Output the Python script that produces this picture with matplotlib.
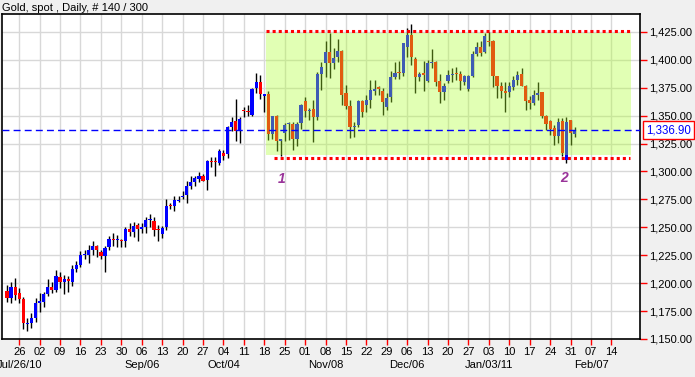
import pandas as pd
import numpy as np
import matplotlib
matplotlib.use("Agg")
import matplotlib.pyplot as plt
import matplotlib.transforms as mtransforms

# daily OHLC, gold spot, Jul 21 2010 .. Feb 01 2011 (140 bars)
opens = [1193.3, 1187.0, 1196.3, 1191.3, 1185.6, 1163.5, 1164.1, 1169.2, 1182.6, 1183.5,
         1190.4, 1196.3, 1193.9, 1205.3, 1201.4, 1203.8, 1201.4, 1212.8, 1216.4, 1225.2,
         1225.4, 1229.9, 1232.9, 1227.5, 1223.9, 1232.0, 1239.8, 1238.2, 1238.0, 1237.9,
         1248.4, 1245.4, 1252.0, 1248.4, 1250.5, 1256.2, 1255.9, 1247.8, 1244.2, 1250.2,
         1269.6, 1268.7, 1273.5, 1276.8, 1279.2, 1287.2, 1290.8, 1293.2, 1296.2, 1292.3,
         1308.8, 1308.5, 1307.6, 1316.9, 1315.7, 1339.6, 1345.6, 1336.0, 1355.3, 1353.8,
         1350.4, 1374.3, 1380.2, 1367.7, 1369.2, 1333.9, 1350.1, 1327.0, 1334.5, 1342.3,
         1342.3, 1329.4, 1343.5, 1362.8, 1354.1, 1355.9, 1348.9, 1387.1, 1397.3, 1406.8,
         1397.3, 1402.4, 1408.1, 1370.1, 1358.7, 1340.1, 1341.3, 1363.2, 1359.6, 1364.1,
         1372.5, 1375.2, 1372.2, 1358.1, 1366.5, 1384.4, 1388.6, 1388.0, 1411.6, 1421.9,
         1400.6, 1385.0, 1388.0, 1381.1, 1397.0, 1397.9, 1381.1, 1371.6, 1381.1, 1386.2,
         1387.7, 1387.4, 1379.8, 1373.8, 1385.8, 1405.5, 1411.5, 1406.7, 1417.1, 1417.1,
         1385.2, 1376.8, 1371.7, 1370.8, 1375.6, 1382.2, 1387.6, 1376.8, 1364.3, 1361.3,
         1368.8, 1370.8, 1349.3, 1344.8, 1338.5, 1331.6, 1344.8, 1310.4, 1345.7, 1333.7]
highs = [1198.4, 1200.8, 1204.4, 1195.5, 1187.4, 1168.5, 1173.1, 1186.5, 1191.0, 1192.5,
         1203.8, 1201.4, 1211.9, 1210.4, 1207.4, 1206.5, 1216.4, 1219.4, 1228.4, 1229.9,
         1233.8, 1237.4, 1234.4, 1229.9, 1232.9, 1241.9, 1244.9, 1243.5, 1239.4, 1250.5,
         1254.1, 1255.0, 1254.1, 1253.5, 1259.5, 1261.9, 1259.5, 1252.0, 1251.4, 1275.3,
         1271.7, 1278.3, 1278.3, 1282.2, 1291.1, 1296.2, 1296.2, 1299.2, 1297.7, 1310.3,
         1312.7, 1312.7, 1320.2, 1319.3, 1341.1, 1349.2, 1365.2, 1348.9, 1357.7, 1359.8,
         1374.9, 1388.6, 1386.2, 1369.5, 1372.2, 1350.1, 1351.0, 1329.4, 1343.5, 1344.6,
         1344.4, 1344.4, 1360.7, 1366.7, 1357.1, 1363.7, 1389.2, 1397.9, 1417.0, 1424.2,
         1410.8, 1418.2, 1408.5, 1377.6, 1364.1, 1344.6, 1364.1, 1364.1, 1368.6, 1382.1,
         1382.1, 1376.7, 1374.6, 1370.1, 1390.4, 1397.9, 1398.8, 1415.0, 1428.7, 1431.6,
         1402.4, 1389.5, 1398.8, 1399.7, 1409.3, 1398.5, 1387.1, 1379.2, 1391.0, 1392.6,
         1393.4, 1390.4, 1386.7, 1386.7, 1407.6, 1415.7, 1416.6, 1424.0, 1425.0, 1417.5,
         1385.5, 1379.8, 1379.8, 1379.8, 1385.8, 1389.7, 1392.8, 1377.0, 1367.3, 1373.2,
         1379.8, 1371.0, 1350.8, 1346.3, 1341.7, 1347.8, 1347.8, 1348.7, 1346.3, 1339.7]
lows = [1183.5, 1182.0, 1185.0, 1182.0, 1158.7, 1157.2, 1159.6, 1165.6, 1174.6, 1179.0,
        1188.9, 1191.0, 1192.5, 1195.5, 1190.4, 1192.5, 1197.5, 1210.4, 1214.9, 1221.8,
        1217.9, 1225.4, 1223.3, 1221.5, 1210.4, 1229.9, 1232.9, 1232.0, 1232.2, 1232.2,
        1242.4, 1241.5, 1237.9, 1245.1, 1245.1, 1250.5, 1242.4, 1237.3, 1240.6, 1247.8,
        1266.6, 1264.2, 1272.3, 1275.3, 1271.7, 1284.2, 1287.2, 1290.2, 1291.4, 1283.6,
        1304.3, 1296.2, 1305.8, 1310.6, 1312.1, 1336.6, 1327.0, 1325.5, 1348.9, 1350.1,
        1349.5, 1370.7, 1364.6, 1352.9, 1328.5, 1329.1, 1318.6, 1314.1, 1327.0, 1328.5,
        1319.6, 1323.1, 1338.4, 1348.9, 1346.5, 1326.1, 1346.5, 1373.0, 1385.0, 1383.8,
        1391.4, 1397.9, 1359.6, 1355.7, 1329.7, 1331.2, 1340.1, 1349.1, 1353.6, 1356.6,
        1368.6, 1368.6, 1350.6, 1355.1, 1362.6, 1382.7, 1382.7, 1385.6, 1402.4, 1395.5,
        1370.7, 1380.6, 1371.9, 1380.5, 1392.6, 1376.6, 1361.7, 1364.1, 1379.6, 1380.5,
        1382.3, 1373.2, 1377.7, 1371.7, 1384.6, 1403.1, 1403.7, 1406.1, 1412.1, 1375.6,
        1365.4, 1366.0, 1353.4, 1366.9, 1373.2, 1377.7, 1376.8, 1355.3, 1355.9, 1359.8,
        1364.3, 1347.8, 1337.3, 1332.9, 1323.9, 1325.4, 1314.0, 1308.0, 1323.9, 1331.3]
closes = [1187.0, 1196.3, 1189.4, 1185.6, 1164.1, 1164.5, 1169.2, 1182.6, 1184.4, 1190.4,
          1196.3, 1193.9, 1206.5, 1201.4, 1203.8, 1202.0, 1212.5, 1216.4, 1225.4, 1225.6,
          1229.9, 1233.5, 1229.3, 1223.9, 1231.4, 1239.5, 1238.3, 1238.8, 1237.4, 1248.4,
          1246.0, 1251.4, 1248.4, 1250.5, 1256.5, 1256.6, 1247.2, 1247.2, 1249.6, 1269.3,
          1269.0, 1274.7, 1274.0, 1278.3, 1287.2, 1290.8, 1293.8, 1296.2, 1291.7, 1309.1,
          1308.5, 1308.2, 1318.7, 1314.2, 1339.6, 1344.7, 1336.0, 1347.4, 1353.8, 1352.9,
          1374.0, 1380.2, 1369.2, 1369.2, 1333.9, 1350.1, 1327.0, 1329.4, 1341.4, 1342.8,
          1329.4, 1342.9, 1359.2, 1354.1, 1355.3, 1348.9, 1387.7, 1393.4, 1406.8, 1397.3,
          1401.2, 1407.5, 1368.6, 1358.7, 1340.1, 1340.7, 1363.2, 1353.6, 1364.1, 1373.1,
          1374.0, 1373.7, 1362.6, 1365.6, 1384.4, 1388.0, 1388.0, 1414.6, 1421.9, 1402.4,
          1385.0, 1387.4, 1386.8, 1396.7, 1397.3, 1380.5, 1371.6, 1376.1, 1386.5, 1386.8,
          1387.1, 1380.7, 1385.2, 1385.8, 1405.2, 1411.5, 1406.1, 1421.6, 1415.7, 1385.2,
          1376.8, 1371.7, 1370.2, 1376.2, 1382.2, 1386.7, 1376.8, 1362.8, 1361.3, 1368.8,
          1370.2, 1349.3, 1342.7, 1337.9, 1331.6, 1343.9, 1316.4, 1344.2, 1334.3, 1336.9]

first_day = "2010-07-21"
last_axis_day = "2011-02-18"
week_labels = ["26", "02", "09", "16", "23", "30", "06", "13", "20", "27", "04", "11",
               "18", "25", "01", "08", "15", "22", "29", "06", "13", "20", "27", "03",
               "10", "17", "24", "31", "07", "14"]
month_dates = ["2010-07-26", "2010-09-06", "2010-10-04", "2010-11-08",
               "2010-12-06", "2011-01-03", "2011-02-07"]
month_labels = ["Jul/26/10", "Sep/06", "Oct/04", "Nov/08", "Dec/06", "Jan/03/11", "Feb/07"]
price_ticks = list(range(1150, 1426, 25))
last_price = 1336.90
resistance = 1425.7
support = 1312.1
zone_low, zone_high = 1314.8, 1424.4
title = "Gold, spot , Daily, # 140 / 300"

plt.rcParams["font.family"] = ["Liberation Sans", "DejaVu Sans"]

days = pd.bdate_range(first_day, last_axis_day)
pos = {d.strftime("%Y-%m-%d"): i for i, d in enumerate(days)}
monday_pos = [i for i, d in enumerate(days) if d.weekday() == 0]

o = np.array(opens)
h = np.array(highs)
l = np.array(lows)
c = np.array(closes)
x = np.arange(len(o))
colors = np.where(c >= o, "#0000ff", "#ff0000")

fig = plt.figure(figsize=(6.95, 3.77), dpi=100, facecolor="#f0f0f0")
ax = fig.add_axes([2 / 695, 38 / 377, 638 / 695, 325 / 377])
ax.set_facecolor("white")

ax.vlines(x, l, h, color="black", lw=1, zorder=2)
ax.bar(x, np.maximum(np.abs(c - o), 0.9), bottom=np.minimum(o, c), width=0.78,
       color=colors, lw=0, zorder=3)

# highlighted range
ax.fill_between([63.5, 152.8], zone_low, zone_high, color="#adff2f", alpha=0.36,
                lw=0, zorder=4)
ax.plot([63.5, 152.8], [resistance] * 2, color="red", lw=2.2,
        linestyle=(0, (1, 1)), dash_capstyle="butt", zorder=5)
ax.plot([65.3, 152.6], [support] * 2, color="red", lw=2.2,
        linestyle=(0, (1, 1)), dash_capstyle="butt", zorder=5)
ax.axhline(last_price, color="#0000ff", lw=1, linestyle=(0, (5, 3)), zorder=5)

ax.text(67.2, 1293.5, "1", color="#993399", fontsize=10, fontweight="bold",
        fontstyle="italic", ha="center", va="center", zorder=6)
ax.text(136.5, 1294.4, "2", color="#993399", fontsize=10, fontweight="bold",
        fontstyle="italic", ha="center", va="center", zorder=6)

ax.set_xlim(-1.22, 155.0)
ax.set_ylim(1150, 1441)

ax.set_xticks(monday_pos)
ax.set_xticklabels(week_labels)
ax.yaxis.tick_right()
ax.set_yticks(price_ticks)
ax.set_yticklabels([f"{v:,.2f}" for v in price_ticks])
ax.tick_params(axis="x", direction="out", length=4, width=1, color="red",
               labelcolor="black", labelsize=8, pad=2)
ax.tick_params(axis="y", direction="out", length=5, width=1, color="red",
               labelcolor="black", labelsize=8, pad=1.5)
ax.grid(True, color="#d8d8d8", lw=1)
ax.set_axisbelow(True)
for s in ax.spines.values():
    s.set_color("black")
    s.set_linewidth(1.2)

xt = ax.get_xaxis_transform()
for d, lab in zip(month_dates, month_labels):
    ax.text(pos[d], -0.079, lab, transform=xt, ha="center", va="center",
            fontsize=8, clip_on=False)

yt = mtransforms.blended_transform_factory(ax.transAxes, ax.transData)
ax.text(1 + 6 / 638, last_price, f"{last_price:,.2f}", transform=yt, color="#0000ff",
        fontsize=8.3, ha="left", va="center", clip_on=False, zorder=7,
        bbox=dict(facecolor="white", edgecolor="red", lw=1, pad=2))

fig.text(2 / 695, 1 - 8 / 377, title, fontsize=8, ha="left", va="center")

fig.savefig("out.png", dpi=100, facecolor=fig.get_facecolor())
